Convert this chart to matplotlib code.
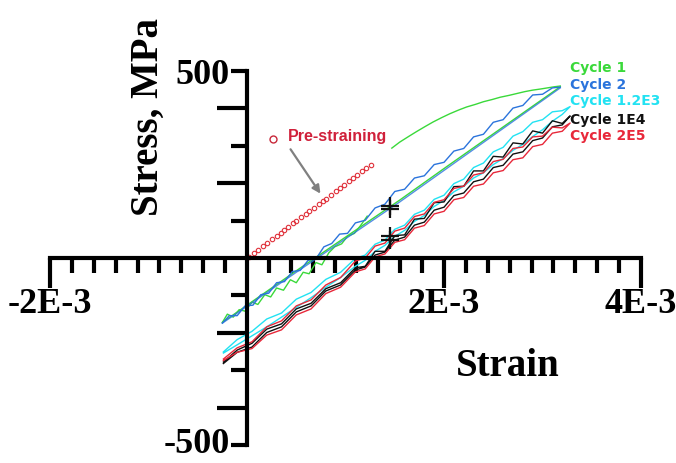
import numpy as np
import matplotlib
matplotlib.use("Agg")
import matplotlib.pyplot as plt
from matplotlib.transforms import ScaledTranslation

# strain in units of 1E-3, stress in MPa
pre_x = [0.02, 0.07, 0.11, 0.16, 0.20, 0.25, 0.30, 0.34, 0.38, 0.42, 0.47, 0.50, 0.55, 0.60, 0.63,
         0.68, 0.73, 0.77, 0.80, 0.85, 0.90, 0.94, 0.98, 1.04, 1.08, 1.12, 1.17, 1.21, 1.26]
pre_y = [4, 14, 22, 32, 40, 50, 59, 67, 75, 83, 93, 99, 109, 119, 125,
         135, 145, 152, 158, 168, 178, 186, 194, 206, 214, 222, 232, 240, 250]

# cycle 1 (green): loading after pre-strain, straight unloading, noisy reloading
c1_load_x = [1.47, 1.55, 1.64, 1.72, 1.81, 1.89, 1.98, 2.06, 2.15, 2.23, 2.32,
             2.40, 2.49, 2.57, 2.66, 2.74, 2.82, 2.90, 2.98, 3.05, 3.12, 3.18]
c1_load_y = [294, 310, 325, 338, 352, 364, 376, 386, 396, 404, 411,
             418, 424, 430, 435, 440, 445, 449, 452, 455, 458, 460]
c1_unload_x = [3.18, 2.03, 1.55, 0.50, -0.25]
c1_unload_y = [458, 245, 155, -34, -172]
c1_reload_x = [-0.25, -0.20, -0.14, -0.08, -0.02, 0.05, 0.11, 0.18, 0.24, 0.30, 0.37, 0.44,
               0.50, 0.57, 0.63, 0.70, 0.76, 0.83, 0.89, 0.96, 1.02, 1.09, 1.15, 1.22]
c1_reload_y = [-172, -150, -158, -138, -142, -118, -124, -98, -104, -80, -86, -58,
               -66, -38, -42, -12, -18, 14, 30, 38, 58, 66, 86, 112]

# cycle 2 (blue)
c2_up_x = [-0.25, -0.18, -0.10, -0.02, 0.06, 0.14, 0.22, 0.30, 0.38, 0.46, 0.54, 0.62, 0.70,
           0.78, 0.86, 0.94, 1.02, 1.10, 1.20, 1.30, 1.40, 1.50, 1.60, 1.70, 1.80, 1.90,
           2.00, 2.10, 2.20, 2.30, 2.40, 2.50, 2.60, 2.70, 2.80, 2.90, 3.00, 3.10, 3.18]
c2_up_y = [-174, -154, -154, -128, -126, -98, -94, -66, -63, -36, -33, -6, -2,
           30, 39, 64, 66, 94, 101, 134, 144, 178, 184, 214, 220, 250,
           256, 286, 293, 324, 331, 363, 370, 401, 408, 436, 438, 455, 457]
c2_down_x = [3.18, 2.03, 1.55, 0.50, -0.25]
c2_down_y = [455, 240, 150, -38, -174]

# cycles 1.2E3 / 1E4 / 2E5 share one strain grid
loop_x = [-0.24, -0.10, 0.05, 0.20, 0.35, 0.50, 0.65, 0.80, 0.95, 1.10, 1.20, 1.30, 1.40, 1.50,
          1.60, 1.70, 1.80, 1.90, 2.00, 2.10, 2.20, 2.30, 2.40, 2.50, 2.60, 2.70, 2.80, 2.90,
          3.00, 3.10, 3.20, 3.28]
c3_up = [-251, -218, -196, -163, -147, -110, -92, -57, -38, -1, 8, 37, 48, 77,
         88, 117, 128, 157, 168, 199, 211, 242, 254, 284, 296, 326, 338, 363,
         370, 391, 394, 405]
c3_dn = [-254, -232, -208, -184, -158, -132, -106, -78, -52, -22, -6, 18, 34, 58,
         74, 98, 114, 138, 154, 177, 192, 214, 228, 250, 266, 288, 304, 325,
         343, 366, 384, 405]
c4_up = [-278, -246, -228, -190, -176, -136, -121, -82, -66, -26, -22, 18, 18, 60,
         62, 104, 106, 148, 150, 191, 192, 233, 233, 272, 270, 308, 305, 340,
         334, 367, 360, 380]
c4_dn = [-282, -252, -238, -199, -184, -144, -128, -88, -72, -32, -24, 8, 16, 48,
         56, 88, 96, 128, 136, 167, 174, 204, 211, 242, 248, 278, 284, 314,
         321, 351, 356, 380]
c5_up = [-270, -240, -224, -184, -168, -128, -112, -72, -52, -8, 0, 32, 40, 72,
         80, 111, 118, 149, 156, 186, 192, 222, 228, 258, 264, 293, 297, 324,
         326, 350, 348, 361]
c5_dn = [-274, -252, -242, -206, -192, -152, -136, -95, -78, -37, -29, 3, 11, 42,
         49, 80, 87, 118, 125, 156, 162, 192, 198, 228, 234, 263, 268, 298,
         304, 334, 339, 361]

cross_x = [1.45, 1.45, 1.45, 1.45]
cross_y = [140, 132, 58, 48]

legend_labels = ['Cycle 1', 'Cycle 2', 'Cycle 1.2E3', 'Cycle 1E4', 'Cycle 2E5']
legend_y = [508, 463, 420, 369, 326]

GREEN = '#3ad93a'
BLUE = '#2b74dc'
CYAN = '#22e2f2'
BLACK = '#111111'
RED = '#e8283a'
colors = [GREEN, BLUE, CYAN, BLACK, RED]

fig = plt.figure(figsize=(6.76, 4.63), dpi=100)
ax = fig.add_axes([0, 0, 1, 1])
ax.set_xlim(-2.508, 4.355)
ax.set_ylim(-548, 690)

lw = 1.0
ax.plot(c1_load_x, c1_load_y, color=GREEN, lw=lw)
ax.plot(c1_unload_x, c1_unload_y, color=GREEN, lw=lw)
ax.plot(c1_reload_x, c1_reload_y, color=GREEN, lw=lw)
ax.plot(c2_up_x, c2_up_y, color=BLUE, lw=lw)
ax.plot(c2_down_x, c2_down_y, color=BLUE, lw=lw, alpha=0.8)

for up, dn, col in [(c3_up, c3_dn, CYAN), (c4_up, c4_dn, BLACK), (c5_up, c5_dn, RED)]:
    ax.plot(loop_x + loop_x[::-1], up + dn[::-1], color=col, lw=lw)

ax.plot(pre_x, pre_y, 'o', ms=3.2, mfc='none', mec='#e0303a', mew=0.8)
ax.plot(cross_x, cross_y, '+', ms=13, mew=1.6, color=BLACK)

# axes through origin
for s in ['top', 'right']:
    ax.spines[s].set_visible(False)
ax.spines['left'].set_position(('data', 0))
ax.spines['bottom'].set_position(('data', 0))
ax.spines['left'].set_bounds(-500, 500)
ax.spines['bottom'].set_bounds(-2, 4)
ax.spines['left'].set_linewidth(3)
ax.spines['bottom'].set_linewidth(3)

tick_font = dict(family='Liberation Serif', weight='bold', size=26)
ax.set_xticks([-2, 2, 4], ['-2E-3', '2E-3', '4E-3'], **tick_font)
minor_x = [v for v in np.linspace(-2, 4, 28) if abs(v) > 1e-6 and abs(v - 2) > 1e-6
           and abs(v + 2) > 1e-6 and abs(v - 4) > 1e-6]
ax.set_xticks(minor_x, minor=True)
ax.tick_params(axis='x', which='major', direction='out', length=21.6, width=3, pad=0)
ax.tick_params(axis='x', which='minor', direction='out', length=10.8, width=3)

yt = [-500, -400, -300, -200, -100, 100, 200, 300, 400, 500]
ax.set_yticks(yt, ['-500', '', '', '', '', '', '', '', '', '500'], **tick_font)
ax.tick_params(axis='y', which='major', direction='out', length=11.5, width=3, pad=1)
for v, t in zip(yt, ax.yaxis.get_major_ticks()):
    if abs(v) in (200, 400):
        t.tick1line.set_markersize(21.6)

# keep the lower label inside the picture
low_lab = ax.get_yticklabels()[0]
low_lab.set_transform(low_lab.get_transform() + ScaledTranslation(0, 3 / 72, fig.dpi_scale_trans))

title_font = dict(family='Liberation Serif', weight='bold', size=28)
ax.text(2.65, -289, 'Strain', ha='center', va='center', **title_font)
ax.text(-1.0, 377, 'Stress, MPa', ha='center', va='center', rotation=90, **title_font)

for lab, y, col in zip(legend_labels, legend_y, colors):
    ax.text(3.28, y, lab, color=col, ha='left', va='center',
            family='DejaVu Sans', weight='bold', size=10)

ax.plot([0.264], [318], 'o', ms=5, mfc='none', mec='#c8283a', mew=1)
ax.text(0.416, 325, 'Pre-straining', color='#d0203a', ha='left', va='center',
        family='Liberation Sans', weight='bold', size=11.5)
ax.annotate('', xy=(0.761, 166), xytext=(0.426, 297),
            arrowprops=dict(arrowstyle='-|>', color='#808080', lw=1.6, mutation_scale=12))

fig.savefig('out.png', dpi=100)
